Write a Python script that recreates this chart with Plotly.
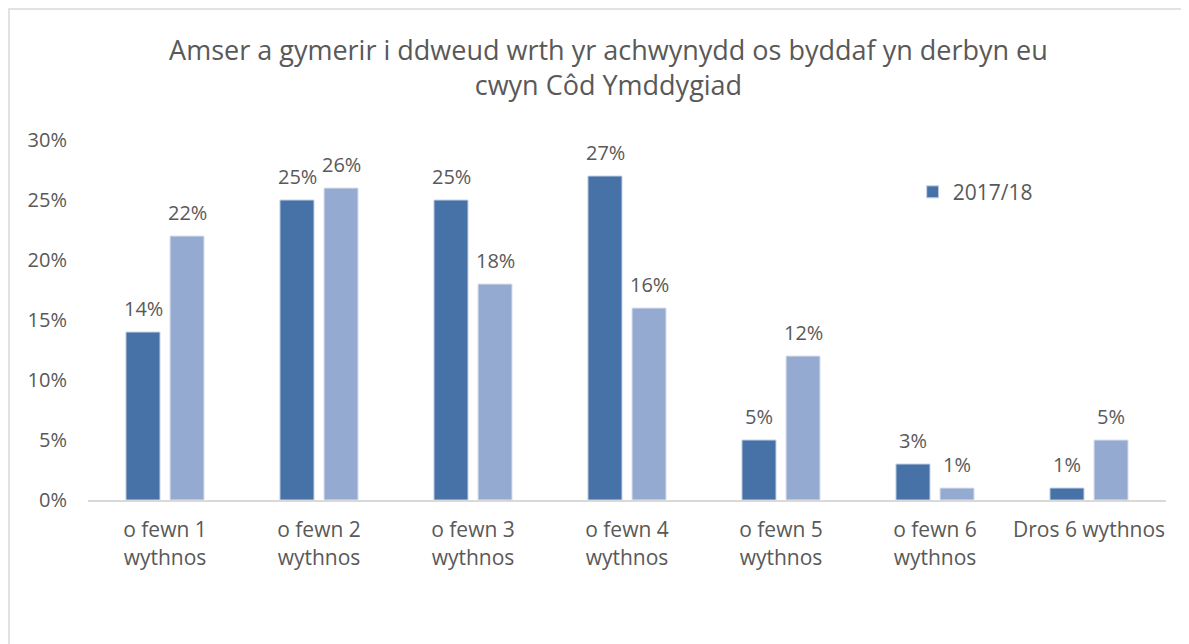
import plotly.graph_objects as go

categories = ["o fewn 1<br>wythnos", "o fewn 2<br>wythnos", "o fewn 3<br>wythnos",
              "o fewn 4<br>wythnos", "o fewn 5<br>wythnos", "o fewn 6<br>wythnos",
              "Dros 6 wythnos"]
series1_name = "2017/18"
series1 = [0.14, 0.25, 0.25, 0.27, 0.05, 0.03, 0.01]
series2_name = "2018/19"
series2 = [0.22, 0.26, 0.18, 0.16, 0.12, 0.01, 0.05]
ytick_vals = [0, 0.05, 0.10, 0.15, 0.20, 0.25, 0.30]
ytick_text = ["0%", "5%", "10%", "15%", "20%", "25%", "30%"]
title_text = "Amser a gymerir i ddweud wrth yr achwynydd os byddaf yn derbyn eu<br>cwyn Côd Ymddygiad"

DARK = "#4672A8"
LIGHT = "#95AAD0"
TXT = "#595959"
FONT = "Open Sans"

fig = go.Figure()
fig.add_trace(go.Bar(x=categories, y=series1, name=series1_name,
                     marker=dict(color=DARK, line=dict(color="#c8d3e6", width=1))))
fig.add_trace(go.Bar(x=categories, y=series2, name=series2_name, showlegend=False,
                     marker=dict(color=LIGHT, line=dict(color="#dbe2ef", width=1))))

annotations = []
for cat, v1, v2 in zip(categories, series1, series2):
    for v, sh in ((v1, -22), (v2, 22)):
        annotations.append(dict(x=cat, y=v, xref="x", yref="y", text=f"{round(v*100)}%",
                                showarrow=False, xshift=sh, yshift=24, yanchor="middle",
                                xanchor="center", font=dict(family=FONT, size=20, color=TXT)))

fig.update_layout(
    width=1189, height=644,
    paper_bgcolor="white", plot_bgcolor="white",
    margin=dict(l=80, r=31, t=132, b=152),
    barmode="group", bargap=0.428, bargroupgap=0.227,
    title=dict(text=title_text, x=0.505, xanchor="center", y=0.919, yanchor="middle",
               font=dict(family=FONT, size=27, color=TXT)),
    font=dict(family=FONT, color=TXT),
    legend=dict(x=0.765, y=0.855, xanchor="left", yanchor="middle",
                bgcolor="rgba(0,0,0,0)", font=dict(family=FONT, size=21, color=TXT),
                itemwidth=30),
    annotations=annotations,
    shapes=[dict(type="rect", xref="paper", yref="paper",
                 x0=(9 - 88) / 1078, x1=(1200 - 88) / 1078,
                 y0=(500 - 650) / 360, y1=(500 - 9) / 360,
                 line=dict(color="#d9d9d9", width=1.5), fillcolor="rgba(0,0,0,0)",
                 layer="below")],
)
fig.update_xaxes(showline=True, linecolor="#d9d9d9", linewidth=2, ticks="",
                 ticklabelstandoff=10,
                 tickfont=dict(family=FONT, size=21, color=TXT), showgrid=False)
fig.update_yaxes(range=[0, 0.30], tickvals=ytick_vals, ticktext=ytick_text,
                 showgrid=False, zeroline=False, showline=False, ticks="",
                 ticklabelstandoff=20,
                 tickfont=dict(family=FONT, size=20, color=TXT))

fig.write_html("out.html")
